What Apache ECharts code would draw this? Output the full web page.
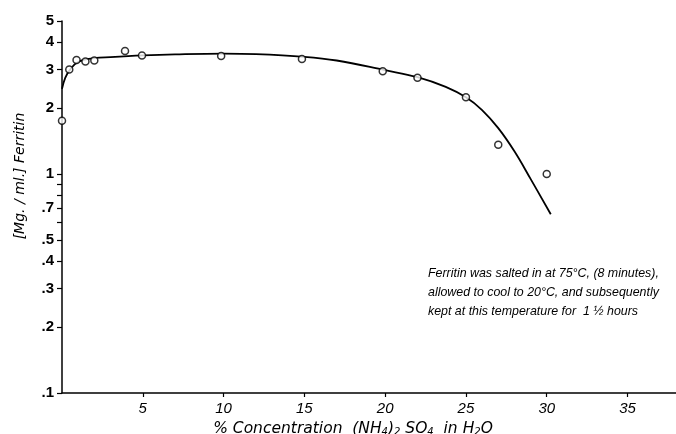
<!DOCTYPE html>
<html>
<head>
<meta charset="utf-8">
<script src="https://cdn.jsdelivr.net/npm/echarts@6/dist/echarts.min.js"></script>
<style>
    html, body { margin: 0; background: #fff; }
    #chart { width: 676px; height: 434px; }
</style>
</head>
<body>
<div id="chart"></div>
<script>
// measured points: % (NH4)2SO4 vs mg/ml ferritin
const concentration = [0, 0.45, 0.9, 1.45, 2, 3.9, 4.95, 9.85, 14.85, 19.85, 22, 25, 27, 30];
const ferritin = [1.75, 3.0, 3.32, 3.27, 3.3, 3.65, 3.48, 3.46, 3.35, 2.95, 2.75, 2.24, 1.36, 1.0];

// the hand drawn curve through them
const curveX = [0, 0.2, 0.5, 1, 2, 3, 5, 7, 10, 12, 15, 17, 20, 22, 23.75, 25, 26, 27, 28, 29, 30.25];
const curveY = [2.45, 2.75, 3.0, 3.25, 3.38, 3.42, 3.48, 3.52, 3.55, 3.53, 3.43, 3.3, 2.98, 2.77, 2.5, 2.24, 1.96, 1.62, 1.27, 0.95, 0.655];

// axis ticks
const xTicks = [5, 10, 15, 20, 25, 30, 35];
const yTicks = [0.1, 0.2, 0.3, 0.4, 0.5, 0.6, 0.7, 0.8, 0.9, 1, 2, 3, 4, 5];
const yLabels = [0.1, 0.2, 0.3, 0.4, 0.5, 0.7, 1, 2, 3, 4, 5];

const note = [
    "Ferritin was salted in at 75°C, (8 minutes),",
    "allowed to cool to 20°C, and subsequently",
    "kept at this temperature for  1 ½ hours",
];

const font = "Liberation Sans";
const wide = "DejaVu Sans";
const chart = echarts.init(document.getElementById("chart"));

chart.setOption({
    animation: false,
    grid: { left: 62, right: 0, top: 21, bottom: 41, outerBoundsMode: "none" },
    xAxis: {
        type: "value",
        min: 0,
        max: 38,
        splitLine: { show: false },
        axisLine: { lineStyle: { color: "#000", width: 1.5 } },
        axisTick: { customValues: xTicks, length: 4, lineStyle: { color: "#000", width: 1.2 } },
        axisLabel: {
            customValues: xTicks,
            margin: 8,
            color: "#000",
            fontFamily: font,
            fontStyle: "italic",
            fontSize: 15,
        },
        name: "{t|% Concentration  (NH}{s|4}{t|)}{s|2}{t| SO}{s|4}{t|  in H}{s|2}{t|O}",
        nameLocation: "middle",
        nameGap: 27,
        nameTextStyle: {
            padding: [0, 32, 0, 0],
            rich: {
                t: { fontFamily: wide, fontStyle: "italic", fontSize: 15.5, color: "#000" },
                s: { fontFamily: wide, fontStyle: "italic", fontSize: 10, color: "#000", padding: [7, 0, 0, 0] },
            },
        },
    },
    yAxis: {
        type: "log",
        logBase: 10,
        min: 0.1,
        max: 5,
        splitLine: { show: false },
        minorTick: { show: false },
        axisLine: { show: true, lineStyle: { color: "#000", width: 1.5 } },
        axisTick: { customValues: yTicks, length: 5, lineStyle: { color: "#000", width: 1.2 } },
        axisLabel: {
            customValues: yLabels,
            margin: 8,
            color: "#000",
            fontFamily: font,
            fontWeight: "bold",
            fontSize: 15,
            formatter: function (v) {
                const r = Math.round(v * 10) / 10;
                return r < 1 ? String(r).replace("0.", ".") : String(r);
            },
        },
    },
    graphic: [
        {
            type: "text",
            x: 20,
            y: 176,
            rotation: Math.PI / 2,
            style: {
                text: "[Mg. / ml.] Ferritin",
                fontFamily: wide,
                fontStyle: "italic",
                fontSize: 14,
                fill: "#000",
                align: "center",
                verticalAlign: "middle",
            },
        },
        {
            type: "text",
            x: 428,
            y: 264,
            style: {
                text: note.join("\n"),
                fontFamily: font,
                fontStyle: "italic",
                fontSize: 12.4,
                lineHeight: 19,
                fill: "#000",
            },
        },
    ],
    series: [
        {
            type: "line",
            data: curveX.map((x, i) => [x, curveY[i]]),
            smooth: 0.4,
            showSymbol: false,
            lineStyle: { color: "#000", width: 1.8 },
            z: 2,
        },
        {
            type: "scatter",
            data: concentration.map((x, i) => [x, ferritin[i]]),
            symbol: "circle",
            symbolSize: 7,
            itemStyle: { color: "#fff", borderColor: "#000", borderWidth: 1.5 },
            z: 3,
        },
    ],
});
</script>
</body>
</html>
